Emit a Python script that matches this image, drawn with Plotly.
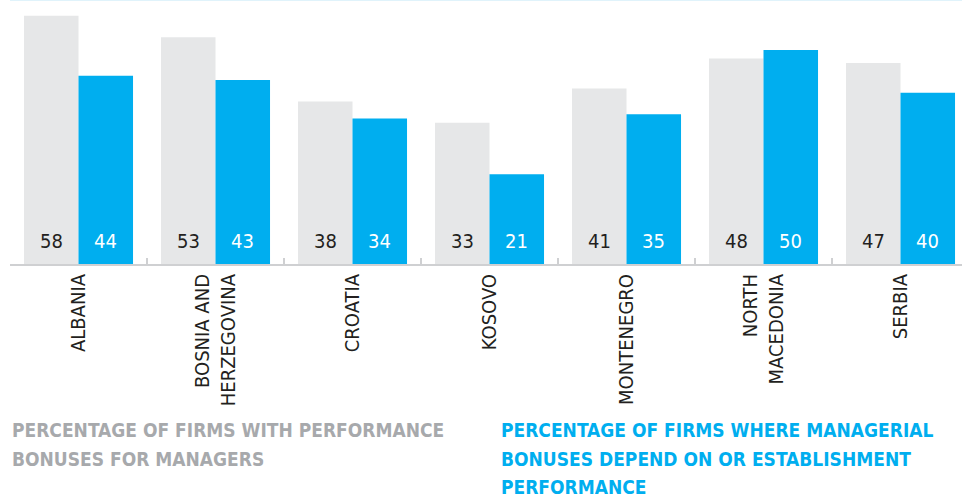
import plotly.graph_objects as go

countries = ["ALBANIA", "BOSNIA AND<br>HERZEGOVINA", "CROATIA", "KOSOVO",
             "MONTENEGRO", "NORTH<br>MACEDONIA", "SERBIA"]
bonus_pct = [58, 53, 38, 33, 41, 48, 47]
depend_pct = [44, 43, 34, 21, 35, 50, 40]

legend_gray = ["PERCENTAGE OF FIRMS WITH PERFORMANCE", "BONUSES FOR MANAGERS"]
legend_blue = ["PERCENTAGE OF FIRMS WHERE MANAGERIAL", "BONUSES DEPEND ON OR ESTABLISHMENT",
               "PERFORMANCE"]

GRAY = "#e6e7e8"
BLUE = "#00aeef"
TXT = "#231f20"
FONT = "DejaVu Sans Condensed, DejaVu Sans, sans-serif"

W, H = 962, 497
L, R, T, B = 10, 0, 0, 233
ph = H - T - B

fig = go.Figure()
fig.add_trace(go.Bar(x=countries, y=bonus_pct, marker=dict(color=GRAY, line=dict(width=0)),
                     name="gray", hoverinfo="skip"))
fig.add_trace(go.Bar(x=countries, y=depend_pct, marker=dict(color=BLUE, line=dict(width=0)),
                     name="blue", hoverinfo="skip"))

annotations = []
for c, a, b in zip(countries, bonus_pct, depend_pct):
    annotations.append(dict(x=c, y=0, xref="x", yref="y", text=str(a), showarrow=False,
                            xshift=-27, yshift=23, font=dict(family=FONT, size=20, color=TXT)))
    annotations.append(dict(x=c, y=0, xref="x", yref="y", text=str(b), showarrow=False,
                            xshift=27, yshift=23, font=dict(family=FONT, size=20, color="white")))

def py(p):
    return (H - B - p) / ph

for i, line in enumerate(legend_gray):
    annotations.append(dict(x=0, y=py(430 + 28.5 * i), xref="paper", yref="paper",
                            xanchor="left", yanchor="middle", align="left", showarrow=False,
                            text="<b>" + line + "</b>",
                            font=dict(family=FONT, size=19, color="#a7a9ac")))
for i, line in enumerate(legend_blue):
    annotations.append(dict(x=(499 - L) / (W - L - R), y=py(430 + 28.5 * i), xref="paper",
                            yref="paper", xanchor="left", yanchor="middle", align="left",
                            showarrow=False, text="<b>" + line + "</b>",
                            font=dict(family=FONT, size=19, color=BLUE)))

fig.update_layout(
    width=W, height=H,
    margin=dict(l=L, r=R, t=T, b=B, pad=0),
    paper_bgcolor="white", plot_bgcolor="white",
    barmode="group", bargap=0.204, bargroupgap=0,
    showlegend=False,
    annotations=annotations,
    shapes=[dict(type="line", xref="paper", yref="paper", x0=0, x1=1, y0=1, y1=1,
                 line=dict(color="#e0f3fb", width=2))],
    xaxis=dict(type="category", range=[-0.5, -0.5 + (W - L - R) / 137.0],
               showline=True, linecolor="#cfd0d2", linewidth=2,
               ticks="inside", tickson="boundaries", ticklen=6, tickcolor="#cfd0d2", tickwidth=2,
               tickangle=-90, tickfont=dict(family=FONT, size=20, color=TXT),
               showgrid=False, zeroline=False, fixedrange=True),
    yaxis=dict(range=[0, 61.7], visible=False, showgrid=False, zeroline=False, fixedrange=True),
)

fig.write_html("out.html", config={"displayModeBar": False},
               post_script="document.body.style.margin='0';document.body.style.overflow='hidden';")
